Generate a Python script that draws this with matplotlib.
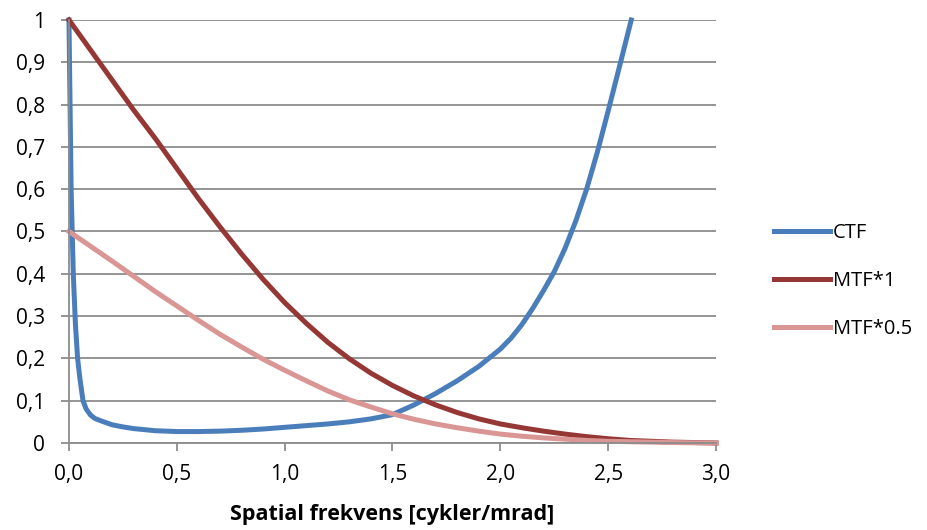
import matplotlib
matplotlib.use("Agg")
import matplotlib.pyplot as plt
from matplotlib.ticker import FuncFormatter, MultipleLocator

plt.rcParams['font.family'] = ['Open Sans', 'DejaVu Sans']

# CTF curve
ctf_x = [0.0, 0.005, 0.01, 0.02, 0.03, 0.04, 0.05, 0.065, 0.08, 0.1, 0.12, 0.15,
         0.2, 0.25, 0.3, 0.4, 0.5, 0.6, 0.7, 0.8, 0.9, 1.0, 1.1, 1.2, 1.3, 1.4,
         1.5, 1.6, 1.7, 1.8, 1.9, 2.0, 2.05, 2.1, 2.15, 2.2, 2.25, 2.3, 2.35, 2.4,
         2.45, 2.5, 2.55, 2.607]
ctf_y = [1.0, 0.8, 0.6, 0.4, 0.28, 0.2, 0.155, 0.1, 0.08, 0.066, 0.058, 0.052,
         0.043, 0.038, 0.034, 0.029, 0.027, 0.027, 0.028, 0.030, 0.033, 0.037, 0.041,
         0.045, 0.050, 0.057, 0.067, 0.09, 0.117, 0.147, 0.181, 0.222, 0.248, 0.28,
         0.318, 0.36, 0.405, 0.46, 0.525, 0.6, 0.688, 0.785, 0.885, 1.0]

# MTF curves
mtf_x = [0.0, 0.1, 0.2, 0.3, 0.4, 0.5, 0.6, 0.7, 0.8, 0.9, 1.0, 1.1, 1.2, 1.3,
         1.4, 1.5, 1.6, 1.7, 1.8, 1.9, 2.0, 2.1, 2.2, 2.3, 2.4, 2.5, 2.6, 2.7,
         2.8, 2.9, 3.0]
mtf1_y = [1.0, 0.929, 0.858, 0.787, 0.72, 0.649, 0.578, 0.511, 0.447, 0.387,
          0.332, 0.283, 0.238, 0.199, 0.165, 0.136, 0.111, 0.09, 0.072, 0.057,
          0.045, 0.036, 0.028, 0.021, 0.015, 0.01, 0.006, 0.004, 0.002, 0.001, 0.0]
mtf05_y = [0.5, 0.465, 0.43, 0.394, 0.358, 0.324, 0.29, 0.257, 0.227, 0.198,
           0.172, 0.147, 0.123, 0.102, 0.085, 0.069, 0.056, 0.045, 0.036, 0.028,
           0.021, 0.016, 0.012, 0.009, 0.006, 0.004, 0.003, 0.002, 0.001, 0.0005, 0.0]

series_labels = ["CTF", "MTF*1", "MTF*0.5"]
colors = ["#4A7EBB", "#953735", "#D99694"]

fig = plt.figure(figsize=(9.27, 5.30), dpi=100)
ax = fig.add_axes([0.0744, 0.1642, 0.698, 0.7981])

lw = 3.6
ax.plot(ctf_x, ctf_y, color=colors[0], lw=lw, label=series_labels[0], clip_on=False)
ax.plot(mtf_x, mtf1_y, color=colors[1], lw=lw, label=series_labels[1], clip_on=False)
ax.plot(mtf_x, mtf05_y, color=colors[2], lw=lw, label=series_labels[2], clip_on=False)

ax.set_xlim(0, 3)
ax.set_ylim(0, 1)
ax.xaxis.set_major_locator(MultipleLocator(0.5))
ax.yaxis.set_major_locator(MultipleLocator(0.1))
ax.xaxis.set_major_formatter(FuncFormatter(lambda v, p: f"{v:.1f}".replace(".", ",")))


def yfmt(v, p):
    if abs(v) < 1e-9:
        return "0"
    if abs(v - 1) < 1e-9:
        return "1"
    return f"{v:.1f}".replace(".", ",")


ax.yaxis.set_major_formatter(FuncFormatter(yfmt))

ax.grid(axis='y', color='#8C8C8C', lw=1.3)
ax.set_axisbelow(True)
for s in ['top', 'right']:
    ax.spines[s].set_visible(False)
for s in ['left', 'bottom']:
    ax.spines[s].set_color('#8C8C8C')
    ax.spines[s].set_linewidth(1.3)
ax.tick_params(axis='both', colors='#8C8C8C', width=1.3, length=6, labelsize=15,
               labelcolor='black')
ax.tick_params(axis='x', pad=9)
ax.tick_params(axis='y', pad=11)

ax.set_xlabel("Spatial frekvens [cykler/mrad]", fontsize=15.5, fontweight='bold', labelpad=14)

ax.legend(loc='center left', bbox_to_anchor=(0.826, 0.470), bbox_transform=fig.transFigure,
          frameon=False, fontsize=14.5, handlelength=2.8, handletextpad=0.12,
          labelspacing=1.40, borderaxespad=0)

fig.savefig("out.png", dpi=100)
